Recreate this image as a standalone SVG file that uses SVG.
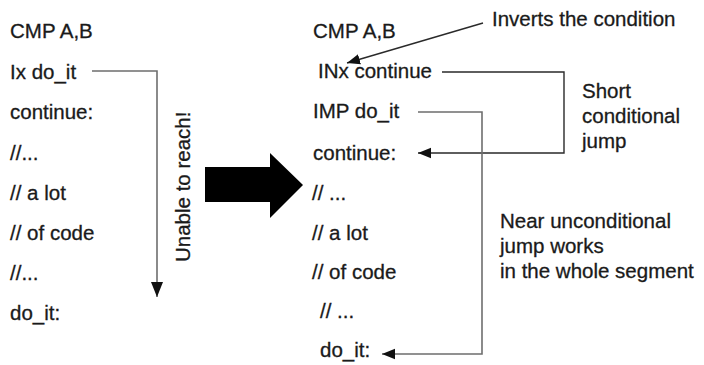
<svg xmlns="http://www.w3.org/2000/svg" width="704" height="365" viewBox="0 0 704 365">
  <defs>
    <style>
      text { font-family: "Liberation Sans", Arial, sans-serif; font-size: 20.5px; fill: #1a1a1a; stroke: #1a1a1a; stroke-width: 0.3; }
      .gray { fill: none; stroke: #6e6e6e; stroke-width: 1.6; }
      .dark { fill: none; stroke: #2a2a2a; stroke-width: 1.4; }
    </style>
    <marker id="headGray" viewBox="0 0 10 8" refX="10" refY="4" markerWidth="15" markerHeight="12" markerUnits="userSpaceOnUse" orient="auto">
      <path d="M0,0 L10,4 L0,8 Z" fill="#111"/>
    </marker>
    <marker id="headDark" viewBox="0 0 10 10" refX="10" refY="5" markerWidth="13" markerHeight="13" markerUnits="userSpaceOnUse" orient="auto">
      <path d="M0,1 L10,5 L0,9 Z" fill="#111"/>
    </marker>
  </defs>
  <rect width="704" height="365" fill="#ffffff"/>

  <!-- original code listing -->
  <g id="left-code">
    <text x="10" y="38">CMP A,B</text>
    <text x="10" y="79">Ix do_it</text>
    <text x="10" y="119">continue:</text>
    <text x="10" y="160">//...</text>
    <text x="10" y="200">// a lot</text>
    <text x="10" y="240">// of code</text>
    <text x="10" y="280">//...</text>
    <text x="10" y="320">do_it:</text>
  </g>

  <g id="unreachable-label">
    <text transform="translate(190,262) rotate(-90)">Unable to reach!</text>
  </g>

  <!-- transformation arrow -->
  <g id="big-arrow">
    <path d="M205,167 H270 V153 L303,185 L270,218 V202 H205 Z" fill="#000"/>
  </g>

  <!-- rewritten code listing -->
  <g id="right-code">
    <text x="313" y="38">CMP A,B</text>
    <text x="318" y="78">INx continue</text>
    <text x="313" y="118">IMP do_it</text>
    <text x="313" y="160">continue:</text>
    <text x="312" y="200">// ...</text>
    <text x="312" y="240">// a lot</text>
    <text x="312" y="279">// of code</text>
    <text x="320" y="318">// ...</text>
    <text x="320" y="357">do_it:</text>
  </g>

  <!-- annotations -->
  <g id="note-invert">
    <text x="492" y="26">Inverts the condition</text>
  </g>
  <g id="note-short">
    <text x="582" y="98">Short</text>
    <text x="582" y="123">conditional</text>
    <text x="582" y="148">jump</text>
  </g>
  <g id="note-near">
    <text x="500" y="228">Near unconditional</text>
    <text x="500" y="253">jump works</text>
    <text x="500" y="278">in the whole segment</text>
  </g>

  <!-- jumps -->
  <g id="connectors">
    <path class="gray" d="M92,71 H157 V297" marker-end="url(#headGray)"/>
    <path class="dark" d="M483,23 L347,63" marker-end="url(#headDark)"/>
    <path class="dark" d="M442,72 H564 V153 H418" marker-end="url(#headDark)"/>
    <path class="gray" d="M418,112 H482 V354 H382" marker-end="url(#headDark)"/>
  </g>
</svg>
